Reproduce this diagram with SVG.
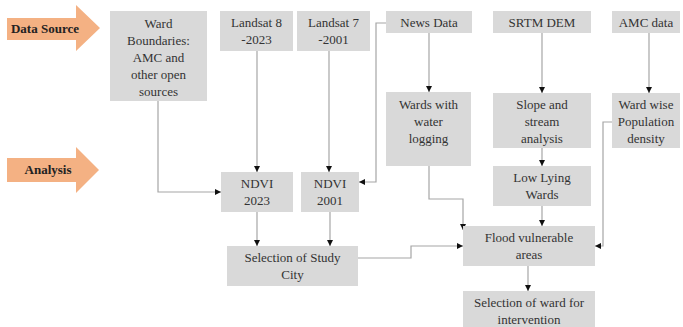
<svg xmlns="http://www.w3.org/2000/svg" width="683" height="327" viewBox="0 0 683 327">
<style>
.box{fill:#d9d9d9}
.t{font-family:"Liberation Serif","Times New Roman",serif;font-size:13px;fill:#333;text-anchor:middle}
.lbl{font-family:"Liberation Serif","Times New Roman",serif;font-size:13px;font-weight:bold;fill:#222;text-anchor:middle}
.c{fill:none;stroke:#a6a6a6;stroke-width:1.2}
.band{fill:#f4b183}
</style>
<defs>
<marker id="ah" viewBox="0 0 6 6" refX="6" refY="3" markerWidth="6" markerHeight="6" markerUnits="userSpaceOnUse" orient="auto">
<path d="M0,0L6,3L0,6z" fill="#111"/>
</marker>
</defs>
<rect width="683" height="327" fill="#fff"/>
<g id="band-data-source">
<polygon class="band" points="7,18 76,18 76,5 100,28 76,51 76,40 7,40"/>
<text class="lbl" x="45" y="33">Data Source</text>
</g>
<g id="band-analysis">
<polygon class="band" points="7,158 76,158 76,147 99,170 76,193 76,182 7,182"/>
<text class="lbl" x="48" y="174">Analysis</text>
</g>
<g id="connectors">
<path class="c" d="M158,101V192H221" marker-end="url(#ah)"/>
<path class="c" d="M257,51V172" marker-end="url(#ah)"/>
<path class="c" d="M329,51V172" marker-end="url(#ah)"/>
<path class="c" d="M386,23H376V182H359" marker-end="url(#ah)"/>
<path class="c" d="M429,33V92" marker-end="url(#ah)"/>
<path class="c" d="M542,33V93" marker-end="url(#ah)"/>
<path class="c" d="M649,33V93" marker-end="url(#ah)"/>
<path class="c" d="M542,148V166" marker-end="url(#ah)"/>
<path class="c" d="M542,206V226" marker-end="url(#ah)"/>
<path class="c" d="M257,212V246" marker-end="url(#ah)"/>
<path class="c" d="M330,212V246" marker-end="url(#ah)"/>
<path class="c" d="M429,166V199H463V230" marker-end="url(#ah)"/>
<path class="c" d="M358,258H411V246H463" marker-end="url(#ah)"/>
<path class="c" d="M612,122H603V246H595" marker-end="url(#ah)"/>
<path class="c" d="M528,266V291" marker-end="url(#ah)"/>
</g>
<g id="ward-boundaries">
<rect class="box" x="110" y="11" width="97" height="90"/>
<text class="t" x="158.5" y="28">Ward</text>
<text class="t" x="158.5" y="45">Boundaries:</text>
<text class="t" x="158.5" y="62">AMC and</text>
<text class="t" x="158.5" y="79">other open</text>
<text class="t" x="158.5" y="96">sources</text>
</g>
<g id="landsat8">
<rect class="box" x="220" y="11" width="73" height="40"/>
<text class="t" x="256.5" y="27">Landsat 8</text>
<text class="t" x="256.5" y="44">-2023</text>
</g>
<g id="landsat7">
<rect class="box" x="297" y="11" width="73" height="40"/>
<text class="t" x="333.5" y="27">Landsat 7</text>
<text class="t" x="333.5" y="44">-2001</text>
</g>
<g id="news-data">
<rect class="box" x="386" y="11" width="86" height="22"/>
<text class="t" x="429" y="27">News Data</text>
</g>
<g id="srtm-dem">
<rect class="box" x="493" y="11" width="98" height="22"/>
<text class="t" x="542" y="27">SRTM DEM</text>
</g>
<g id="amc-data">
<rect class="box" x="612" y="11" width="68" height="22"/>
<text class="t" x="646" y="27">AMC data</text>
</g>
<g id="wards-water-logging">
<rect class="box" x="386" y="92" width="85" height="74"/>
<text class="t" x="428.5" y="109">Wards with</text>
<text class="t" x="428.5" y="126">water</text>
<text class="t" x="428.5" y="143">logging</text>
</g>
<g id="slope-stream">
<rect class="box" x="493" y="93" width="98" height="55"/>
<text class="t" x="542" y="109">Slope and</text>
<text class="t" x="542" y="126">stream</text>
<text class="t" x="542" y="143">analysis</text>
</g>
<g id="ward-population">
<rect class="box" x="612" y="93" width="68" height="55"/>
<text class="t" x="646" y="109">Ward wise</text>
<text class="t" x="646" y="126">Population</text>
<text class="t" x="646" y="143">density</text>
</g>
<g id="low-lying">
<rect class="box" x="493" y="166" width="98" height="40"/>
<text class="t" x="542" y="182">Low Lying</text>
<text class="t" x="542" y="199">Wards</text>
</g>
<g id="ndvi2023">
<rect class="box" x="221" y="172" width="72" height="40"/>
<text class="t" x="257" y="188">NDVI</text>
<text class="t" x="257" y="205">2023</text>
</g>
<g id="ndvi2001">
<rect class="box" x="301" y="172" width="58" height="40"/>
<text class="t" x="330" y="188">NDVI</text>
<text class="t" x="330" y="205">2001</text>
</g>
<g id="study-city">
<rect class="box" x="227" y="246" width="131" height="40"/>
<text class="t" x="292.5" y="262">Selection of Study</text>
<text class="t" x="292.5" y="279">City</text>
</g>
<g id="flood-vulnerable">
<rect class="box" x="463" y="226" width="132" height="40"/>
<text class="t" x="529" y="242">Flood vulnerable</text>
<text class="t" x="529" y="259">areas</text>
</g>
<g id="selection-ward">
<rect class="box" x="463" y="291" width="132" height="36"/>
<text class="t" x="529" y="307">Selection of ward for</text>
<text class="t" x="529" y="324">intervention</text>
</g>
</svg>
